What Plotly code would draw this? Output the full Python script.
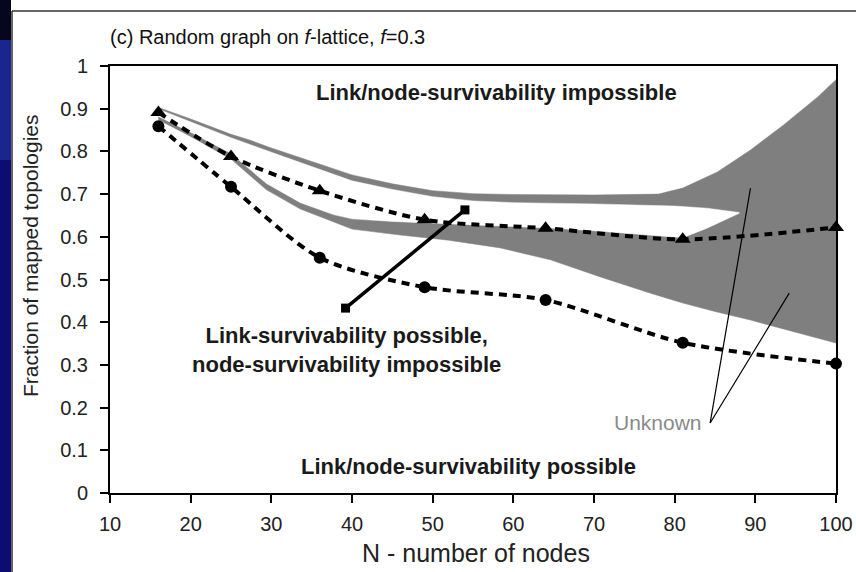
import plotly.graph_objects as go

# ---------------- data ----------------
N_TRI = [16, 25, 36, 49, 64, 81, 100]
FRAC_TRI = [0.891, 0.788, 0.708, 0.640, 0.620, 0.594, 0.622]

N_CIRC = [16, 25, 36, 49, 64, 81, 100]
FRAC_CIRC = [0.859, 0.717, 0.551, 0.482, 0.452, 0.352, 0.303]

# "Unknown" region: outer upper boundary and outer lower boundary
UNK_TOP_N = [16, 20, 25, 27.4, 30, 33.6, 40, 45, 50, 55, 60, 70, 78, 81, 85.3, 89.4, 93.5, 97.7, 100]
UNK_TOP_Y = [0.903, 0.876, 0.840, 0.826, 0.808, 0.785, 0.745, 0.724, 0.708, 0.701, 0.699, 0.698, 0.700, 0.714, 0.752, 0.803, 0.862, 0.927, 0.968]
UNK_BOT_N = [16, 20, 25, 29.4, 33.6, 37.7, 40, 46, 52, 58.4, 64.6, 70.8, 77, 81, 85, 89.4, 95, 100]
UNK_BOT_Y = [0.874, 0.835, 0.782, 0.710, 0.665, 0.635, 0.618, 0.604, 0.592, 0.574, 0.546, 0.506, 0.468, 0.445, 0.425, 0.405, 0.377, 0.351]

# white gap between the two grey bands
GAP_TOP_N = [16, 20, 25, 30, 35, 40, 45, 50, 55, 60, 70, 80, 84, 88]
GAP_TOP_Y = [0.899, 0.870, 0.832, 0.798, 0.765, 0.731, 0.711, 0.694, 0.684, 0.680, 0.677, 0.672, 0.667, 0.657]
GAP_BOT_N = [16, 20, 25, 29.4, 33.6, 37.7, 40, 45, 50, 55, 60, 65, 70, 75, 81, 84, 88]
GAP_BOT_Y = [0.882, 0.845, 0.795, 0.725, 0.680, 0.652, 0.642, 0.636, 0.632, 0.627, 0.624, 0.620, 0.614, 0.607, 0.598, 0.620, 0.655]

# pointer (thick black line with square ends)
POINTER_N = [39.2, 54.0]
POINTER_Y = [0.433, 0.663]

# "Unknown" leader lines
LEADER1_N = [84.4, 89.4]
LEADER1_Y = [0.164, 0.714]
LEADER2_N = [84.4, 94.2]
LEADER2_Y = [0.164, 0.468]

X_TICKS = [10, 20, 30, 40, 50, 60, 70, 80, 90, 100]
Y_TICKS = [0, 0.1, 0.2, 0.3, 0.4, 0.5, 0.6, 0.7, 0.8, 0.9, 1]
Y_TICKTEXT = ["0", "0.1", "0.2", "0.3", "0.4", "0.5", "0.6", "0.7", "0.8", "0.9", "1"]

FONT = "Liberation Sans, Arial, Helvetica, sans-serif"
GREY = "#7f7f7f"

fig = go.Figure()

# grey "unknown" region
fig.add_trace(go.Scatter(
    x=UNK_TOP_N + UNK_BOT_N[::-1], y=UNK_TOP_Y + UNK_BOT_Y[::-1],
    mode="lines", fill="toself", fillcolor=GREY, line=dict(width=0.5, color=GREY),
    hoverinfo="skip"))
# white gap between the grey bands
fig.add_trace(go.Scatter(
    x=GAP_TOP_N + GAP_BOT_N[::-1], y=GAP_TOP_Y + GAP_BOT_Y[::-1],
    mode="lines", fill="toself", fillcolor="white", line=dict(width=0.5, color="white"),
    hoverinfo="skip"))

# dotted series
fig.add_trace(go.Scatter(
    x=N_TRI, y=FRAC_TRI, mode="lines+markers", cliponaxis=False,
    line=dict(color="black", width=4, dash="8px,6px", shape="spline", smoothing=0.8),
    marker=dict(symbol="triangle-up", size=14, color="black")))
fig.add_trace(go.Scatter(
    x=N_CIRC, y=FRAC_CIRC, mode="lines+markers", cliponaxis=False,
    line=dict(color="black", width=4, dash="8px,6px", shape="spline", smoothing=0.8),
    marker=dict(symbol="circle", size=12, color="black")))

# pointer
fig.add_trace(go.Scatter(
    x=POINTER_N, y=POINTER_Y, mode="lines+markers",
    line=dict(color="black", width=3.5),
    marker=dict(symbol="square", size=9, color="black")))

# leader lines
for lx, ly in ((LEADER1_N, LEADER1_Y), (LEADER2_N, LEADER2_Y)):
    fig.add_trace(go.Scatter(x=lx, y=ly, mode="lines", line=dict(color="black", width=1.2)))

annots = [
    dict(x=57.9, y=0.939, text="<b>Link/node-survivability impossible</b>"),
    dict(x=39.3, y=0.335, text="<b>Link-survivability possible,<br>node-survivability impossible</b>"),
    dict(x=54.4, y=0.061, text="<b>Link/node-survivability possible</b>"),
]
for a in annots:
    fig.add_annotation(x=a["x"], y=a["y"], text=a["text"], showarrow=False,
                       xref="x", yref="y", xanchor="center", yanchor="middle",
                       font=dict(family=FONT, size=22, color="#1a1a1a"))
fig.add_annotation(x=83.6, y=0.166, text="Unknown", showarrow=False, xanchor="right",
                   yanchor="middle", font=dict(family=FONT, size=21, color="#8a8a8a"))


def px_x(p):
    return (p - 110) / 726.0


def px_y(p):
    return (493 - p) / 427.0


# axis titles placed as annotations
fig.add_annotation(x=px_x(476), y=px_y(553), xref="paper", yref="paper", showarrow=False,
                   text="N - number of nodes", xanchor="center", yanchor="middle",
                   font=dict(family=FONT, size=25, color="#222222"))
fig.add_annotation(x=px_x(30), y=px_y(256), xref="paper", yref="paper", showarrow=False,
                   text="Fraction of mapped topologies", textangle=-90,
                   xanchor="center", yanchor="middle",
                   font=dict(family=FONT, size=21, color="#222222"))

# slide decoration: dark blue strip on the left and frame lines
shapes = [
    dict(type="rect", xref="paper", yref="paper", x0=px_x(0), x1=px_x(11), y0=px_y(0), y1=px_y(40),
         fillcolor="#06061e", line=dict(width=0), layer="above"),
    dict(type="rect", xref="paper", yref="paper", x0=px_x(0), x1=px_x(11), y0=px_y(40), y1=px_y(160),
         fillcolor="#1a2590", line=dict(width=0), layer="above"),
    dict(type="rect", xref="paper", yref="paper", x0=px_x(0), x1=px_x(11), y0=px_y(160), y1=px_y(572),
         fillcolor="#0c0c72", line=dict(width=0), layer="above"),
    dict(type="line", xref="paper", yref="paper", x0=px_x(12), x1=px_x(12), y0=px_y(11), y1=px_y(572),
         line=dict(color="#333333", width=1.5)),
    dict(type="line", xref="paper", yref="paper", x0=px_x(12), x1=px_x(856), y0=px_y(11), y1=px_y(11),
         line=dict(color="#333333", width=1.5)),
]

fig.update_layout(
    width=856, height=572,
    margin=dict(l=110, r=20, t=66, b=79, autoexpand=False),
    paper_bgcolor="white", plot_bgcolor="white",
    showlegend=False,
    shapes=shapes,
    title=dict(text="(c) Random graph on <i>f</i>-lattice, <i>f</i>=0.3",
               x=110 / 856, xanchor="left", xref="container",
               y=1 - 37 / 572, yanchor="middle", yref="container",
               font=dict(family=FONT, size=20, color="#111111")),
    xaxis=dict(range=[10, 100], tickvals=X_TICKS, ticks="outside", ticklen=8, tickwidth=2,
               tickcolor="black", showline=True, linewidth=2, linecolor="black", mirror=True,
               showgrid=False, zeroline=False, ticklabelstandoff=4,
               tickfont=dict(family=FONT, size=20, color="#222222")),
    yaxis=dict(range=[0, 1], tickvals=Y_TICKS, ticktext=Y_TICKTEXT, ticks="outside", ticklen=8,
               tickwidth=2, tickcolor="black", showline=True, linewidth=2, linecolor="black",
               mirror=True, showgrid=False, zeroline=False, ticklabelstandoff=8,
               tickfont=dict(family=FONT, size=20, color="#222222")),
)

fig.write_html("out.html", config={"displayModeBar": False},
               post_script="document.body.style.margin='0';")
